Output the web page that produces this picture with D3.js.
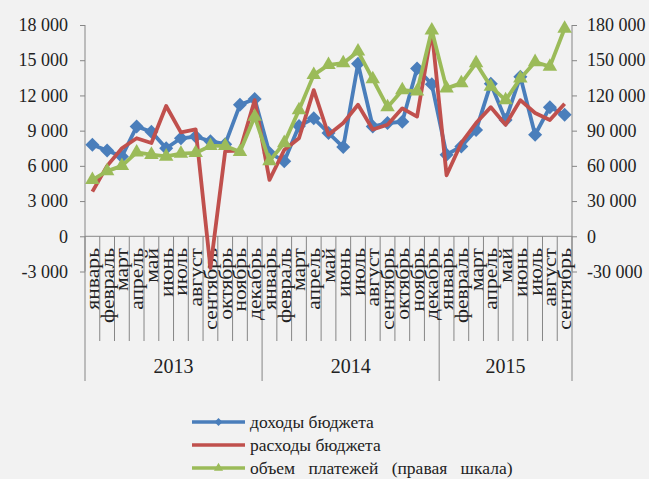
<!DOCTYPE html>
<html>
<head>
<meta charset="utf-8">
<script src="https://cdn.jsdelivr.net/npm/d3@7"></script>
<style>
  body { margin: 0; background: #f2f2f2; }
  svg { display: block; font-family: "Liberation Serif", "Times New Roman", serif; }
</style>
</head>
<body>
<svg id="chart" width="649" height="479"></svg>
<script>
// months Jan 2013 .. Sep 2015
let monthNames = ["январь", "февраль", "март", "апрель", "май", "июнь", "июль",
                  "август", "сентябрь", "октябрь", "ноябрь", "декабрь"];
let years = ["2013", "2014", "2015"];
let monthsPerYear = [12, 12, 9];

// доходы бюджета (left scale)
let income = [7800, 7300, 6800, 9350, 8900, 7500, 8350, 8500, 8100, 7850, 11200, 11700,
              7100, 6400, 9400, 10050, 8800, 7600, 14700, 9350, 9650, 9750, 14300, 12950,
              6950, 7650, 9050, 13000, 9900, 13600, 8650, 11000, 10350];
// расходы бюджета (left scale)
let spending = [3800, 6000, 7500, 8350, 7950, 11100, 8850, 9100, -2700, 7250, 7300, 11600,
                4800, 7350, 8350, 12450, 8650, 9650, 11200, 9100, 9500, 10900, 10200, 17500,
                5200, 7950, 9650, 11000, 9500, 11600, 10500, 9900, 11300];
// объем платежей (right scale)
let payments = [48000, 55500, 60000, 71500, 69500, 68000, 70500, 71000, 77000, 77000, 72000, 102000,
                64000, 79500, 107500, 137500, 146000, 147500, 157500, 134000, 110000, 124500, 123500, 175500,
                126000, 130500, 147500, 127500, 116000, 134500, 148500, 144500, 177000];

let leftTicks = [-3000, 0, 3000, 6000, 9000, 12000, 15000, 18000];
let rightTicks = [-30000, 0, 30000, 60000, 90000, 120000, 150000, 180000];

let legendLabels = ["доходы бюджета", "расходы бюджета", "объем платежей (правая шкала)"];
let colors = ["#4a7ebb", "#c0504d", "#9bbb59"];

// build category list
let categories = [];
years.forEach(function(y, yi) {
    for (let m = 0; m < monthsPerYear[yi]; m++) {
        categories.push({ id: y + "-" + m, year: y, month: monthNames[m] });
    }
});

let svg = d3.select("#chart");

let plotLeft = 85, plotRight = 572, plotTop = 25, plotBottom = 271.5;

let xScale = d3.scaleBand()
    .domain(categories.map(d => d.id))
    .range([plotLeft, plotRight]);

let yLeft = d3.scaleLinear().domain([-3000, 18000]).range([plotBottom, plotTop]);
let yRight = d3.scaleLinear().domain([-30000, 180000]).range([plotBottom, plotTop]);

let fmt = function(v) {
    let s = d3.format(",")(Math.abs(v)).replace(/,/g, " ");
    return (v < 0 ? "-" : "") + s;
};

let axisColor = "#868686";

// left axis
let gLeft = svg.append("g").attr("transform", "translate(" + plotLeft + ",0)");
gLeft.call(d3.axisLeft(yLeft).tickValues(leftTicks).tickFormat(fmt).tickSize(5).tickPadding(12));
gLeft.select(".domain").attr("stroke", axisColor).attr("d", "M0," + plotTop + "V" + plotBottom);
gLeft.selectAll(".tick line").attr("stroke", axisColor);
gLeft.selectAll(".tick text").attr("font-size", 18).attr("fill", "#222")
    .attr("font-family", "Liberation Serif");

// right axis
let gRight = svg.append("g").attr("transform", "translate(" + plotRight + ",0)");
gRight.call(d3.axisRight(yRight).tickValues(rightTicks).tickFormat(fmt).tickSize(5).tickPadding(10));
gRight.select(".domain").attr("stroke", axisColor).attr("d", "M0," + plotTop + "V" + plotBottom);
gRight.selectAll(".tick line").attr("stroke", axisColor);
gRight.selectAll(".tick text").attr("font-size", 18).attr("fill", "#222")
    .attr("font-family", "Liberation Serif");

// category axis at zero
let zeroY = yLeft(0);
let gX = svg.append("g");
gX.append("line")
    .attr("x1", plotLeft).attr("x2", plotRight)
    .attr("y1", zeroY).attr("y2", zeroY)
    .attr("stroke", axisColor);

// month dividers
let monthLineBottom = 341, yearLineBottom = 381;
gX.selectAll("line.mtick")
    .data(categories)
    .enter()
    .append("line")
    .attr("class", "mtick")
    .attr("x1", d => xScale(d.id))
    .attr("x2", d => xScale(d.id))
    .attr("y1", zeroY)
    .attr("y2", d => (d.month === monthNames[0] ? yearLineBottom : monthLineBottom))
    .attr("stroke", axisColor);
gX.append("line")
    .attr("x1", plotRight).attr("x2", plotRight)
    .attr("y1", zeroY).attr("y2", yearLineBottom)
    .attr("stroke", axisColor);

// month labels (stretched along the reading direction like the source)
gX.selectAll("text.month")
    .data(categories)
    .enter()
    .append("text")
    .attr("class", "month")
    .attr("transform", d => "translate(" + (xScale(d.id) + xScale.bandwidth() / 2) + ",248) rotate(-90) scale(1.2,1)")
    .attr("text-anchor", "end")
    .attr("dy", "0.36em")
    .attr("font-size", 18)
    .attr("fill", "#222")
    .text(d => d.month);

// year labels
gX.selectAll("text.year")
    .data(years)
    .enter()
    .append("text")
    .attr("class", "year")
    .attr("x", function(y) {
        let cs = categories.filter(c => c.year === y);
        let x0 = xScale(cs[0].id);
        let x1 = xScale(cs[cs.length - 1].id) + xScale.bandwidth();
        return (x0 + x1) / 2;
    })
    .attr("y", 373)
    .attr("text-anchor", "middle")
    .attr("font-size", 20)
    .attr("fill", "#222")
    .text(d => d);

let cx = function(i) { return xScale(categories[i].id) + xScale.bandwidth() / 2; };

let series = [
    { values: income, scale: yLeft, color: colors[0], marker: "diamond" },
    { values: spending, scale: yLeft, color: colors[1], marker: null },
    { values: payments, scale: yRight, color: colors[2], marker: "triangle" }
];

let markerPath = function(type, size) {
    if (type === "diamond") return d3.symbol().type(d3.symbolDiamond2).size(size)();
    return d3.symbol().type(d3.symbolTriangle2).size(size)();
};

series.forEach(function(s) {
    let line = d3.line()
        .x((d, i) => cx(i))
        .y(d => s.scale(d));

    let g = svg.append("g");
    g.append("path")
        .datum(s.values)
        .attr("d", line)
        .attr("fill", "none")
        .attr("stroke", s.color)
        .attr("stroke-width", 3.8)
        .attr("stroke-linejoin", "round");

    if (s.marker) {
        g.selectAll("path.marker")
            .data(s.values)
            .enter()
            .append("path")
            .attr("class", "marker")
            .attr("d", markerPath(s.marker, s.marker === "diamond" ? 125 : 150))
            .attr("transform", (d, i) => "translate(" + cx(i) + "," + s.scale(d) + ")")
            .attr("fill", s.color);
    }
});

// legend
let legend = svg.append("g");
let legendRows = [422, 445, 468];
series.forEach(function(s, i) {
    let row = legend.append("g").attr("transform", "translate(0," + legendRows[i] + ")");
    row.append("line")
        .attr("x1", 192).attr("x2", 245)
        .attr("stroke", s.color)
        .attr("stroke-width", 3.5);
    if (s.marker) {
        row.append("path")
            .attr("d", markerPath(s.marker, s.marker === "diamond" ? 40 : 60))
            .attr("transform", "translate(218.5,0)")
            .attr("fill", s.color);
    }
    row.append("text")
        .attr("x", 250)
        .attr("dy", "0.35em")
        .attr("font-size", 17.5)
        .attr("word-spacing", i === 2 ? 9 : 0)
        .attr("fill", "#222")
        .text(legendLabels[i]);
});
</script>
</body>
</html>
